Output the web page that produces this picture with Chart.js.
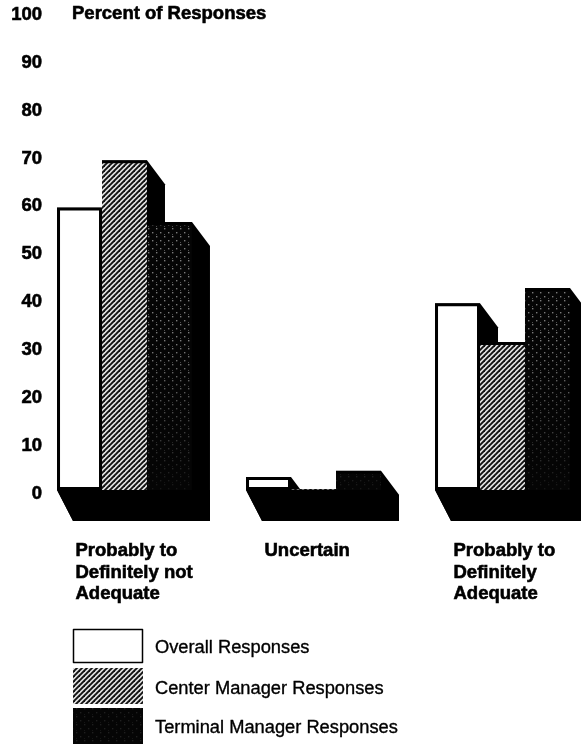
<!DOCTYPE html>
<html>
<head>
<meta charset="utf-8">
<style>
html,body{margin:0;padding:0;background:#fff;overflow:hidden;width:581px;height:744px}
#wrap{width:581px;height:744px;overflow:hidden;position:relative}
canvas{display:block;filter:blur(0.35px)}
</style>
<script src="https://cdn.jsdelivr.net/npm/chart.js@4"></script>
</head>
<body>
<div id="wrap"><canvas id="c" width="600" height="744"></canvas></div>
<script>
const categories = [
  ["Probably to", "Definitely not", "Adequate"],
  ["Uncertain"],
  ["Probably to", "Definitely", "Adequate"]
];
const overall = [59, 2.7, 39];
const center = [68.9, 0.2, 30.9];
const terminal = [56, 4, 42.2];
const seriesNames = ["Overall Responses", "Center Manager Responses", "Terminal Manager Responses"];
const axisTitle = "Percent of Responses";

function hatchPattern() {
  const t = document.createElement('canvas'); t.width = 5; t.height = 5;
  const g = t.getContext('2d');
  g.fillStyle = '#e2e2e2'; g.fillRect(0, 0, 5, 5);
  g.strokeStyle = '#111'; g.lineWidth = 1.9; g.lineCap = 'square';
  [[-5, 5, 5, -5], [0, 5, 5, 0], [0, 10, 10, 0]].forEach(l => {
    g.beginPath(); g.moveTo(l[0], l[1]); g.lineTo(l[2], l[3]); g.stroke();
  });
  return g.createPattern(t, 'repeat');
}
function dotPattern() {
  const t = document.createElement('canvas'); t.width = 8; t.height = 744;
  const g = t.getContext('2d');
  g.fillStyle = '#050505'; g.fillRect(0, 0, 8, 744);
  for (let y = 0; y < 744; y += 4) {
    const a = y < 340 ? 0.55 : y < 500 ? 0.55 * (1 - (y - 340) / 175) : 0.12;
    g.fillStyle = 'rgba(220,220,220,' + a + ')';
    const off = (y / 4) % 2 ? 4 : 0;
    g.fillRect(off, y, 1.4, 1.4);
    g.fillRect(off + 4, y + 2, 0.8, 0.8);
  }
  return g.createPattern(t, 'repeat');
}
const hatch = hatchPattern();
const dots = dotPattern();

const depthX = 18, depthTopY = 24, floorY = 31, floorX = 16;

const depthPlugin = {
  id: 'depth',
  beforeDatasetsDraw(chart) {
    const ctx = chart.ctx;
    ctx.save();
    ctx.fillStyle = '#000';
    const metas = chart.data.datasets.map((_, i) => chart.getDatasetMeta(i));
    categories.forEach((_, i) => {
      const first = metas[0].data[i], last = metas[metas.length - 1].data[i];
      const l = first.x - first.width / 2, r = last.x + last.width / 2, b = first.base;
      ctx.beginPath();
      ctx.moveTo(l, b); ctx.lineTo(r, b); ctx.lineTo(r + depthX, b + floorY);
      ctx.lineTo(l + floorX, b + floorY); ctx.closePath(); ctx.fill();
      metas.forEach(m => {
        const e = m.data[i];
        const x1 = e.x - e.width / 2, x2 = e.x + e.width / 2;
        ctx.beginPath();
        ctx.moveTo(x1, e.y); ctx.lineTo(x2, e.y);
        ctx.lineTo(x2 + depthX, e.y + depthTopY);
        ctx.lineTo(x2 + depthX, b + floorY);
        ctx.lineTo(x1 + floorX, b + floorY);
        ctx.lineTo(x1, b);
        ctx.closePath(); ctx.fill();
      });
    });
    ctx.restore();
  },
  afterDraw(chart) {
    const ctx = chart.ctx;
    ctx.save();
    ctx.fillStyle = '#000';
    ctx.strokeStyle = '#000';
    ctx.lineJoin = 'round';
    ctx.textBaseline = 'middle';
    ctx.font = 'bold 18.5px "Liberation Sans"';
    ctx.lineWidth = 0.6;
    ctx.fillText(axisTitle, 72, 14);
    ctx.strokeText(axisTitle, 72, 14);
    const rows = [[629, 34], [668, 36], [708, 36]];
    ctx.font = '18.3px "Liberation Sans"';
    seriesNames.forEach((name, i) => {
      const [y, h] = rows[i];
      ctx.fillStyle = chart.data.datasets[i].backgroundColor;
      ctx.fillRect(73, y, 70, h);
      if (i === 0) {
        ctx.lineWidth = 1.5;
        ctx.strokeRect(73.5, y + 0.5, 69, h - 1);
      }
      ctx.fillStyle = '#000';
      ctx.lineWidth = 0.35;
      const ty = [648, 689, 728][i];
      ctx.fillText(name, 155, ty);
      ctx.strokeText(name, 155, ty);
    });
    ctx.restore();
  }
};

const topEdge = { top: 3, left: 0, right: 0, bottom: 0 };
const labelFont = { family: 'Liberation Sans', weight: 'bold', size: 18.5, lineHeight: '21.7px' };

new Chart(document.getElementById('c'), {
  type: 'bar',
  data: {
    labels: categories,
    datasets: [
      { label: seriesNames[0], data: overall, backgroundColor: '#fff', borderColor: '#000', borderWidth: 3, borderSkipped: false },
      { label: seriesNames[1], data: center, backgroundColor: hatch, borderColor: '#000', borderWidth: topEdge, borderSkipped: false },
      { label: seriesNames[2], data: terminal, backgroundColor: dots, borderColor: '#000', borderWidth: topEdge, borderSkipped: false }
    ]
  },
  options: {
    responsive: false,
    animation: false,
    layout: { padding: { top: 11.3, right: 3, left: 0, bottom: 0 } },
    plugins: { legend: { display: false }, title: { display: false }, tooltip: { enabled: false } },
    datasets: { bar: { barPercentage: 1, categoryPercentage: 0.714 } },
    scales: {
      x: {
        grid: { display: false }, border: { display: false },
        afterFit(s) { s.height = 254; s.paddingLeft = 0; s.paddingRight = 0; },
        ticks: {
          autoSkip: false, maxRotation: 0, minRotation: 0,
          align: 'start', crossAlign: 'near', labelOffset: -49, padding: 42,
          color: '#000', font: labelFont, textStrokeColor: '#000', textStrokeWidth: 0.6
        }
      },
      y: {
        min: 0, max: 100,
        grid: { display: false }, border: { display: false },
        afterFit(s) { s.width = 30; s.paddingTop = 0; s.paddingBottom = 0; s._computeLabelArea = () => undefined; },
        ticks: {
          stepSize: 10, padding: -20, labelOffset: 3.5,
          color: '#000', font: labelFont, textStrokeColor: '#000', textStrokeWidth: 0.6
        }
      }
    }
  },
  plugins: [depthPlugin]
});
</script>
</body>
</html>
